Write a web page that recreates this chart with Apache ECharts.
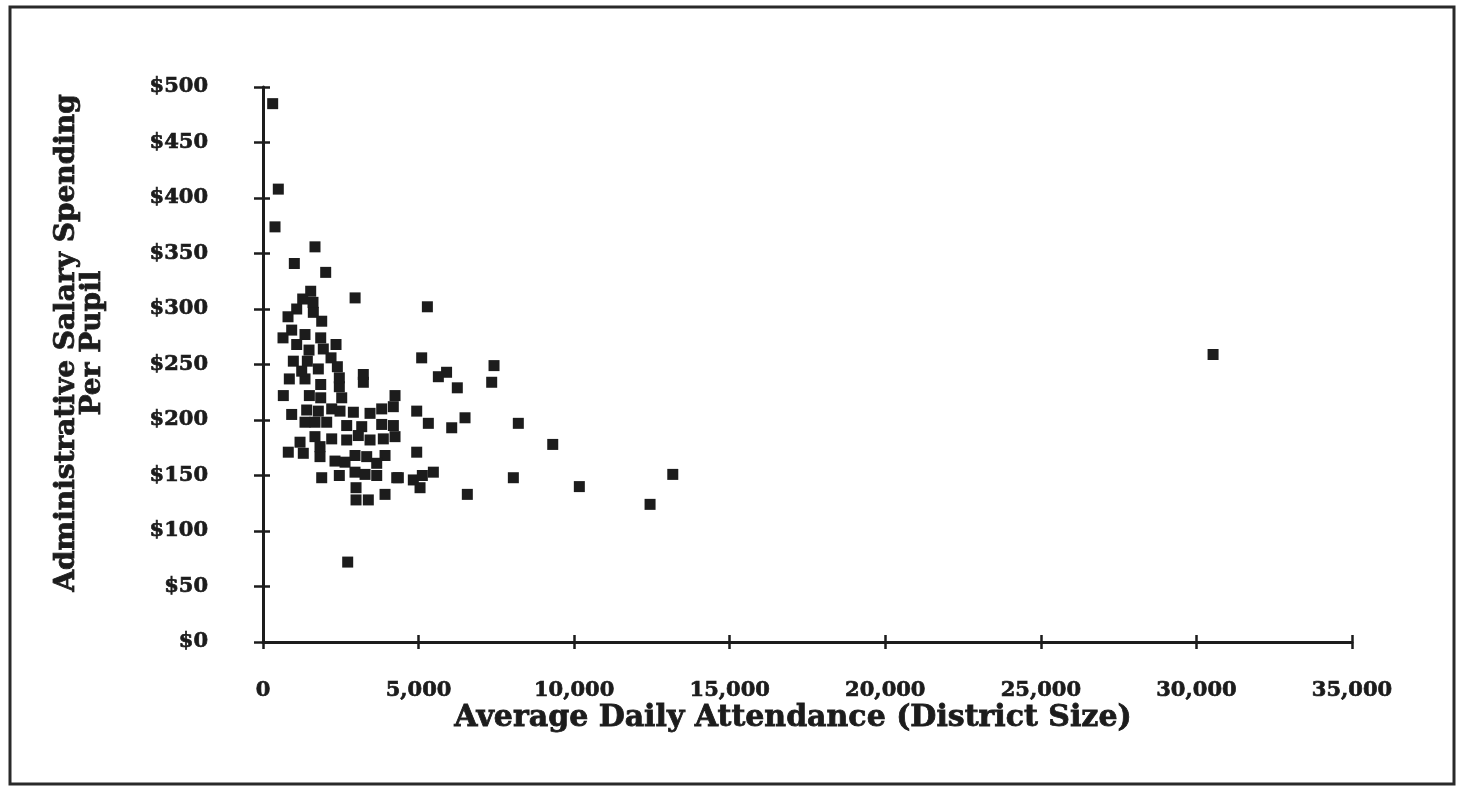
<!DOCTYPE html>
<html>
<head>
<meta charset="utf-8">
<script src="https://cdn.jsdelivr.net/npm/echarts@6/dist/echarts.min.js"></script>
<style>
html,body{margin:0;padding:0;background:#fff;}
#chart{width:1458px;height:791px;}
</style>
</head>
<body>
<div id="chart"></div>
<script>
// Average daily attendance (x) and administrative salary spending per pupil (y)
const attendance = [
  311, 492, 386, 1671, 1007, 2015, 2960, 5283, 1533,
  1083, 1617, 1887, 922, 1350, 1083, 1855, 2347, 975, 1425, 2186, 2390,
  846, 1350, 1855, 2453, 3225, 653, 1490, 1855, 2530, 4243,
  922, 1404, 1778, 2208, 2475, 2904, 3440, 3815, 4188,
  1350, 1671, 2047, 2690, 3173, 3815, 4190,
  1190, 1670, 2208, 2690, 3063, 3440, 3867, 4243,
  813, 1295, 1832, 2314, 2636, 2957, 3333, 3922, 3655, 1832,
  1887, 2453, 2957, 3280, 3655, 4298,
  2990, 2990, 3385, 3922, 2722,
  1276, 1607, 804, 643, 1938, 1479, 1244, 1778, 2453, 3224,
  5100, 5900, 5636, 7425, 7350, 6245, 4940, 6493, 5314, 6065, 8206,
  4940, 4350, 4831, 5047, 5475, 5121, 6567, 8046, 9312, 10167, 13170, 12440,
  30535
];
const spending = [
  485, 408, 374, 356, 341, 333, 310, 302, 316,
  300, 297, 289, 281, 277, 268, 274, 268, 253, 253, 256, 248,
  237, 237, 232, 230, 234, 222, 222, 220, 220, 222,
  205, 209, 208, 210, 208, 207, 206, 210, 212,
  198, 198, 198, 195, 194, 196, 195,
  180, 185, 183, 182, 186, 182, 183, 185,
  171, 170, 167, 163, 162, 168, 167, 168, 161, 176,
  148, 150, 153, 151, 150, 148,
  139, 128, 128, 133, 72,
  309, 306, 293, 274, 264, 263, 244, 246, 238, 241,
  256, 243, 239, 249, 234, 229, 208, 202, 197, 193, 197,
  171, 148, 146, 139, 153, 150, 133, 148, 178, 140, 151, 124,
  259
];
const xTitle = 'Average Daily Attendance (District Size)';
const yTitle = 'Administrative Salary Spending\nPer Pupil';

const points = attendance.map((v, i) => [v, spending[i]]);
const FONT = 'DejaVu Serif';
const INK = '#1c1c1c';

const chart = echarts.init(document.getElementById('chart'));
const baseX = {
  type: 'value', min: 0, max: 35000, interval: 5000, position: 'bottom',
  splitLine: {show: false}
};
const baseY = {
  type: 'value', min: 0, max: 500, interval: 50, position: 'left',
  splitLine: {show: false}
};
const labelStyle = {
  color: INK, fontFamily: FONT, fontWeight: 'bold', fontSize: 21,
  textBorderColor: INK, textBorderWidth: 0.7
};
chart.setOption({
  animation: false,
  backgroundColor: '#fff',
  grid: {left: 263, right: 106, top: 87, bottom: 149, containLabel: false},
  xAxis: [
    Object.assign({}, baseX, {
      axisLine: {show: true, lineStyle: {color: INK, width: 3}},
      axisTick: {show: true, inside: false, length: 7, lineStyle: {color: INK, width: 2.5}},
      axisLabel: Object.assign({margin: 38, formatter: v => v.toLocaleString('en-US')}, labelStyle)
    }),
    Object.assign({}, baseX, {
      axisLine: {show: false},
      axisTick: {show: true, inside: true, length: 7, lineStyle: {color: INK, width: 2.5}},
      axisLabel: {show: false}
    })
  ],
  yAxis: [
    Object.assign({}, baseY, {
      axisLine: {show: true, lineStyle: {color: INK, width: 3}},
      axisTick: {show: true, inside: false, length: 9, lineStyle: {color: INK, width: 2.5}},
      axisLabel: Object.assign({margin: 55, formatter: v => '$' + v}, labelStyle)
    }),
    Object.assign({}, baseY, {
      axisLine: {show: false},
      axisTick: {show: true, inside: true, length: 7, lineStyle: {color: INK, width: 2.5}},
      axisLabel: {show: false}
    })
  ],
  series: [{
    type: 'scatter',
    xAxisIndex: 0, yAxisIndex: 0,
    symbol: 'rect', symbolSize: 11,
    itemStyle: {color: INK, opacity: 1},
    data: points
  }],
  graphic: [
    {type: 'rect', shape: {x: 10, y: 7, width: 1444, height: 777},
     style: {fill: 'none', stroke: '#2a2a2a', lineWidth: 3}, silent: true},
    {type: 'text', x: 793, y: 718,
     style: {text: xTitle, font: 'bold 30px "DejaVu Serif"', fill: INK,
             stroke: INK, lineWidth: 0.8,
             textAlign: 'center', textVerticalAlign: 'middle'}},
    {type: 'text', x: 80, y: 343, rotation: Math.PI / 2,
     style: {text: yTitle, font: 'bold 28px "DejaVu Serif"', fill: INK, lineHeight: 26,
             stroke: INK, lineWidth: 0.8,
             textAlign: 'center', textVerticalAlign: 'middle'}}
  ]
});
</script>
</body>
</html>
